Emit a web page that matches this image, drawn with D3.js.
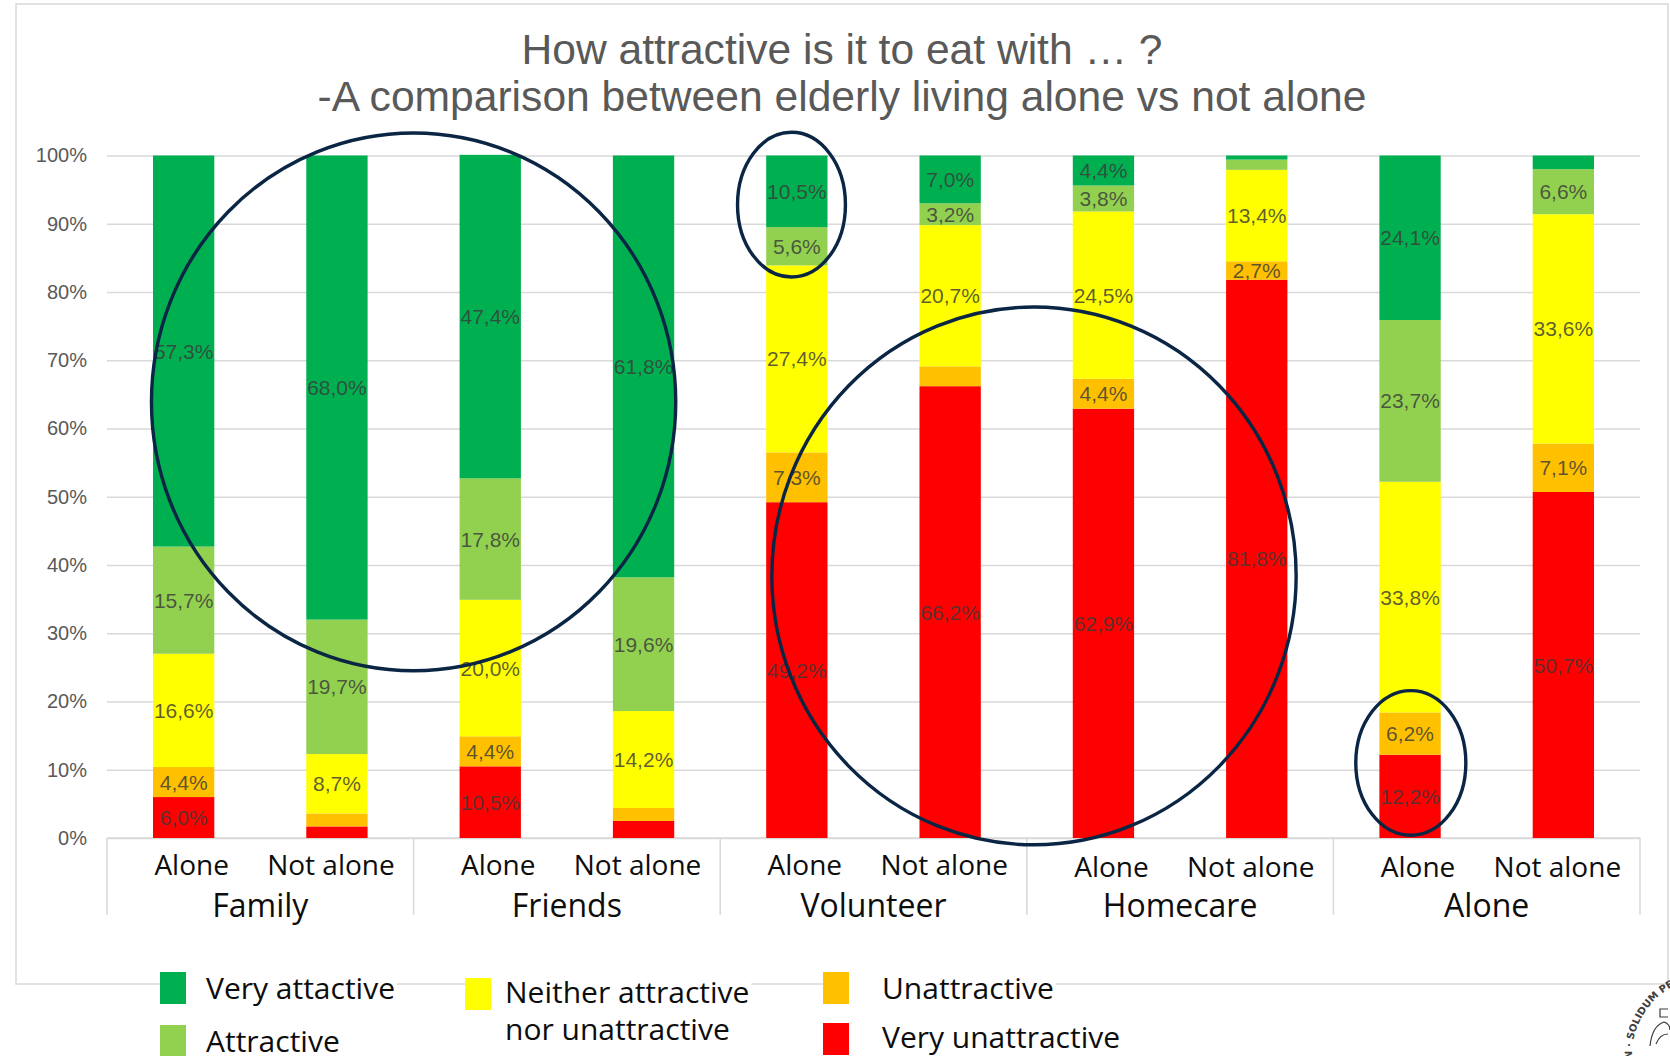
<!DOCTYPE html>
<html>
<head>
<meta charset="utf-8">
<script src="https://cdn.jsdelivr.net/npm/d3@7"></script>
<style>
  html, body { margin: 0; padding: 0; background: #fff; }
  svg { display: block; }
</style>
</head>
<body>
<svg id="chart" width="1670" height="1056"></svg>
<script>
// ---- data ----
const groups = ["Family", "Friends", "Volunteer", "Homecare", "Alone"];
const livingSituations = ["Alone", "Not alone"];
const seriesKeys = ["vu", "un", "ne", "at", "va"]; // stacked bottom to top
const seriesNames = ["Very unattractive", "Unattractive", "Neither attractive nor unattractive", "Attractive", "Very attactive"];
const seriesColors = ["#FF0000", "#FFC000", "#FFFF00", "#92D050", "#00B050"];

// shares in %, one value per bar: Family Alone, Family Not alone, Friends Alone, ...
const veryUnattractive = [6.0, 1.7, 10.5, 2.5, 49.2, 66.2, 62.9, 81.8, 12.2, 50.7];
const unattractive     = [4.4, 1.9, 4.4, 1.9, 7.3, 2.9, 4.4, 2.7, 6.2, 7.1];
const neither          = [16.6, 8.7, 20.0, 14.2, 27.4, 20.7, 24.5, 13.4, 33.8, 33.6];
const attractive       = [15.7, 19.7, 17.8, 19.6, 5.6, 3.2, 3.8, 1.5, 23.7, 6.6];
const veryAttractive   = [57.3, 68.0, 47.4, 61.8, 10.5, 7.0, 4.4, 0.6, 24.1, 2.0];

const yTicks = [0, 10, 20, 30, 40, 50, 60, 70, 80, 90, 100];

// segments printed without a value label: [bar index, series index]
const unlabeled = [[1, 0], [1, 1], [3, 0], [3, 1], [5, 1], [7, 3], [7, 4], [9, 4]];

// highlight rings: centre in bar units / percent, radii in bar steps / percent
const highlights = [
  { bar: 1.5,   value: 63.9, rx: 1.71, ry: 39.4 },
  { bar: 3.965, value: 92.8, rx: 0.352, ry: 10.6 },
  { bar: 5.547, value: 38.4, rx: 1.71, ry: 39.4 },
  { bar: 8.005, value: 11.0, rx: 0.359, ry: 10.6 }
];

// ---- setup ----
const svg = d3.select("#chart");
const plot = { left: 107, right: 1640, top: 155.5, bottom: 838 };

const bars = [];
groups.forEach((g, gi) => livingSituations.forEach((s, si) => {
  const i = gi * 2 + si;
  bars.push({
    i, group: g, situation: s,
    vu: veryUnattractive[i], un: unattractive[i], ne: neither[i],
    at: attractive[i], va: veryAttractive[i]
  });
}));

const x0 = d3.scaleBand().domain(groups).range([plot.left, plot.right]).padding(0);
const x1 = d3.scaleBand().domain(livingSituations).range([0, x0.bandwidth()])
  .paddingInner(0.6).paddingOuter(0.3);
const y = d3.scaleLinear().domain([0, 100]).range([plot.bottom, plot.top]);
const barCenter = d3.scaleLinear().domain([-0.5, bars.length - 0.5]).range([plot.left, plot.right]);
const barStep = (plot.right - plot.left) / bars.length;

const fmt = v => d3.format(".1f")(v).replace(".", ",") + "%";

// outer frame
svg.append("rect")
  .attr("x", 16).attr("y", 4).attr("width", 1652).attr("height", 980)
  .attr("fill", "#fff").attr("stroke", "#d9d9d9").attr("stroke-width", 1.5);

// title
const title = svg.append("g")
  .attr("font-family", "'Liberation Sans', Arial, sans-serif")
  .attr("font-size", 42).attr("fill", "#595959").attr("text-anchor", "middle");
title.append("text").attr("x", 842).attr("y", 64)
  .attr("textLength", 641).attr("lengthAdjust", "spacingAndGlyphs")
  .text("How attractive is it to eat with … ?");
title.append("text").attr("x", 842).attr("y", 111)
  .attr("textLength", 1049).attr("lengthAdjust", "spacingAndGlyphs")
  .text("-A comparison between elderly living alone vs not alone");

// gridlines + y labels
const yAxis = d3.axisLeft(y).tickValues(yTicks).tickFormat(d => d + "%")
  .tickSize(-(plot.right - plot.left)).tickPadding(20);
const yG = svg.append("g").attr("transform", `translate(${plot.left},0)`).call(yAxis);
yG.select(".domain").remove();
yG.selectAll(".tick line").attr("stroke", "#d9d9d9").attr("stroke-width", 1.5);
yG.selectAll(".tick text")
  .attr("font-family", "'Liberation Sans', Arial, sans-serif")
  .attr("font-size", 20).attr("fill", "#595959");

// category axis: baseline and group separators
const catAxis = svg.append("g").attr("stroke", "#d9d9d9").attr("stroke-width", 1.5);
catAxis.append("line")
  .attr("x1", plot.left).attr("x2", plot.right)
  .attr("y1", plot.bottom).attr("y2", plot.bottom);
catAxis.selectAll("line.sep")
  .data(groups.map(g => x0(g)).concat([plot.right]))
  .join("line").attr("class", "sep")
  .attr("x1", d => d).attr("x2", d => d)
  .attr("y1", plot.bottom).attr("y2", 915);

const catFont = "'Open Sans', 'Noto Sans', sans-serif";
// sub-category labels sit a little toward the middle of their group
svg.append("g").selectAll("text")
  .data(bars).join("text")
  .attr("x", d => x0(d.group) + x1(d.situation) + x1.bandwidth() / 2 + (d.situation === "Alone" ? 8 : -6))
  .attr("y", d => d.i >= 6 ? 877 : 875)
  .attr("text-anchor", "middle")
  .attr("font-family", catFont).attr("font-size", 28).attr("fill", "#0d0d0d")
  .text(d => d.situation);
svg.append("g").selectAll("text")
  .data(groups).join("text")
  .attr("x", d => x0(d) + x0.bandwidth() / 2)
  .attr("y", 917)
  .attr("text-anchor", "middle")
  .attr("font-family", catFont).attr("font-size", 32).attr("fill", "#0d0d0d")
  .text(d => d);

// stacked bars
const stacked = d3.stack().keys(seriesKeys)(bars);
const barX = d => x0(d.data.group) + x1(d.data.situation);
const layers = svg.append("g").selectAll("g")
  .data(stacked).join("g")
  .attr("fill", (d, k) => seriesColors[k]);
layers.selectAll("rect")
  .data(d => d).join("rect")
  .attr("x", barX)
  .attr("width", x1.bandwidth())
  .attr("y", d => y(d[1]))
  .attr("height", d => y(d[0]) - y(d[1]));

// value labels
const hidden = new Set(unlabeled.map(([b, s]) => b + "-" + s));
const labelData = [];
stacked.forEach((layer, k) => layer.forEach(seg => {
  if (!hidden.has(seg.data.i + "-" + k)) labelData.push({ seg, k, v: seg.data[seriesKeys[k]] });
}));
svg.append("g")
  .attr("font-family", "'Liberation Sans', Arial, sans-serif")
  .attr("font-size", 21).attr("fill", "#3a3a3a").attr("fill-opacity", 0.82)
  .attr("text-anchor", "middle")
  .selectAll("text").data(labelData).join("text")
  .attr("x", d => barX(d.seg) + x1.bandwidth() / 2)
  .attr("y", d => y((d.seg[0] + d.seg[1]) / 2))
  .attr("dy", "0.36em")
  .text(d => fmt(d.v));

// highlight rings
svg.append("g").selectAll("ellipse")
  .data(highlights).join("ellipse")
  .attr("cx", d => barCenter(d.bar))
  .attr("cy", d => y(d.value))
  .attr("rx", d => d.rx * barStep)
  .attr("ry", d => y(0) - y(d.ry))
  .attr("fill", "none").attr("stroke", "#0b2545").attr("stroke-width", 3.4);

// legend
const legendCols = [
  { x: 160, entries: [{ k: 4, sy: 972, base: [999] }, { k: 3, sy: 1025, base: [1052] }] },
  { x: 465, entries: [{ k: 2, sy: 978, base: [1003, 1040] }] },
  { x: 823, entries: [{ k: 1, sy: 972, base: [999] }, { k: 0, sy: 1023, base: [1048] }] }
];
const legendTextGap = [46, 40, 59];
const legendLines = k => k === 2 ? ["Neither attractive", "nor unattractive"] : [seriesNames[k]];
const legend = svg.append("g");
legendCols.forEach((col, ci) => {
  col.entries.forEach(e => {
    const item = legend.append("g");
    const bg = item.append("rect").attr("fill", "#fff");
    item.append("rect")
      .attr("x", col.x).attr("y", e.sy).attr("width", 26).attr("height", 32)
      .attr("fill", seriesColors[e.k]);
    const t = item.append("text")
      .attr("font-family", catFont).attr("font-size", 30).attr("fill", "#0d0d0d");
    legendLines(e.k).forEach((line, li) => {
      t.append("tspan").attr("x", col.x + legendTextGap[ci]).attr("y", e.base[li]).text(line);
    });
    const bb = t.node().getBBox();
    bg.attr("x", col.x).attr("y", Math.min(bb.y, e.sy))
      .attr("width", bb.x + bb.width - col.x + 2)
      .attr("height", Math.max(bb.y + bb.height, e.sy + 32) - Math.min(bb.y, e.sy));
  });
});

// university seal in the corner
const seal = svg.append("g").attr("fill", "#3d3d3d");
const sealC = [1710, 1055], sealR = 78;
const ring = d3.path();
ring.arc(sealC[0], sealC[1], sealR, 171 * Math.PI / 180, 520 * Math.PI / 180, false);
seal.append("defs").append("path").attr("id", "sealRing").attr("d", ring.toString());
seal.append("text")
  .attr("font-family", "'DejaVu Sans', sans-serif").attr("font-size", 10).attr("font-weight", "bold")
  .append("textPath").attr("href", "#sealRing")
  .text("UN · SOLIDUM PETIT IN PROFUNDIS ·");
const mark = d3.path();
mark.moveTo(1668, 1009); mark.lineTo(1660, 1009); mark.lineTo(1660, 1017); mark.lineTo(1668, 1017);
mark.moveTo(1650, 1046); mark.quadraticCurveTo(1652, 1026, 1664, 1022);
mark.quadraticCurveTo(1670, 1024, 1670, 1030);
mark.moveTo(1656, 1044); mark.quadraticCurveTo(1660, 1034, 1668, 1034);
seal.append("path").attr("d", mark.toString())
  .attr("fill", "none").attr("stroke", "#3d3d3d").attr("stroke-width", 1.2);
</script>
</body>
</html>
